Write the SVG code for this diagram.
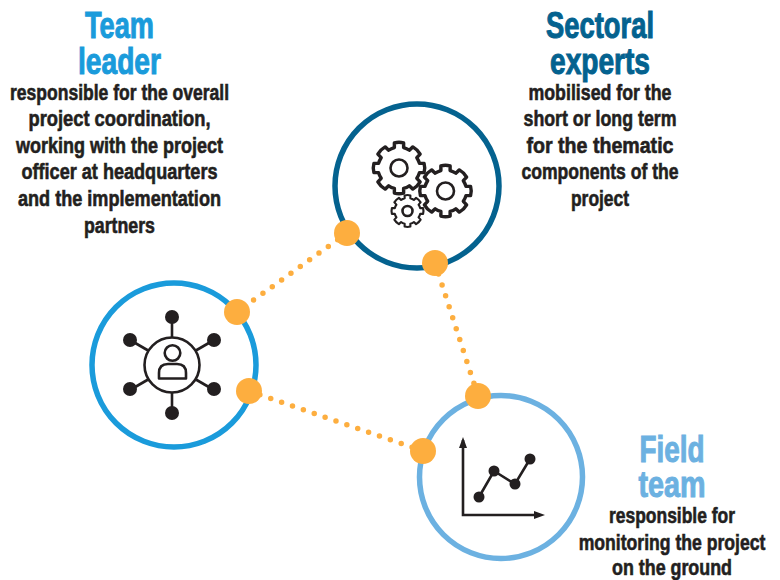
<svg xmlns="http://www.w3.org/2000/svg" width="780" height="580" viewBox="0 0 780 580">
<style>
text{font-family:"Liberation Sans Narrow","Liberation Sans",Arial,sans-serif;font-weight:700;text-anchor:middle}
.b{font-size:22px;fill:#231f20;stroke:#231f20;stroke-width:.6}
.h{font-size:36px;stroke-width:1}
.ring{fill:#fff;stroke-width:5.5}
.dot{fill:#fdae3f}
.ic{fill:none;stroke:#231f20;stroke-width:2.6;stroke-linejoin:round;vector-effect:non-scaling-stroke}
.ik{fill:#231f20}
.ln{stroke:#231f20;stroke-width:2.6;fill:none}
.con{fill:none;stroke:#fdae3f;stroke-width:5.5;stroke-linecap:round;stroke-dasharray:0 11.5}
</style>
<defs>
<path id="gear" d="M-3.500-19 Q0-20 3.500-19 L3.500-15.500 A15.500 15.500 0 0 1 7.800-13.500 L10.500-16 Q14-14 16-10.500 L13.500-7.800 A15.500 15.500 0 0 1 15.500-3.500 L19-3.500 Q20 0 19 3.500 L15.500 3.500 A15.500 15.500 0 0 1 13.500 7.800 L16 10.500 Q14 14 10.500 16 L7.800 13.500 A15.500 15.500 0 0 1 3.500 15.500 L3.500 19 Q0 20 -3.500 19 L-3.500 15.500 A15.500 15.500 0 0 1 -7.800 13.500 L-10.500 16 Q-14 14 -16 10.500 L-13.500 7.800 A15.500 15.500 0 0 1 -15.500 3.500 L-19 3.500 Q-20 0 -19-3.500 L-15.500-3.500 A15.500 15.500 0 0 1 -13.500-7.800 L-16-10.500 Q-14-14 -10.500-16 L-7.800-13.500 A15.500 15.500 0 0 1 -3.500-15.500Z"/>
</defs>
<g id="connectors">
<line class="con" x1="347" y1="233" x2="237" y2="312"/>
<line class="con" x1="435" y1="263" x2="478" y2="396"/>
<line class="con" x1="249" y1="391" x2="423" y2="451"/>
</g>
<g id="team-leader">
<circle class="ring" cx="174" cy="365" r="82" stroke="#1a9bdb"/>
<g class="ln">
<line x1="172" y1="316" x2="172" y2="338"/><line x1="172" y1="392" x2="172" y2="414"/>
<line x1="130" y1="340" x2="149" y2="351"/><line x1="214" y1="340" x2="195" y2="351"/>
<line x1="130" y1="390" x2="149" y2="379"/><line x1="214" y1="390" x2="195" y2="379"/>
</g>
<g class="ik">
<circle cx="172" cy="317" r="7"/><circle cx="172" cy="413" r="7"/>
<circle cx="130" cy="340" r="7"/><circle cx="214" cy="340" r="7"/>
<circle cx="130" cy="389" r="7"/><circle cx="214" cy="389" r="7"/>
</g>
<circle class="ic" cx="172" cy="365" r="27.500"/>
<circle class="ic" cx="172.500" cy="353" r="7.800"/>
<path class="ic" d="M159 378.500V373Q159 364 168 364H177Q186 364 186 373V378.500Z"/>
<text x="119.500" y="38" class="h" fill="#1a9bdb" stroke="#1a9bdb" textLength="69" lengthAdjust="spacingAndGlyphs">Team</text>
<text x="119.500" y="74" class="h" fill="#1a9bdb" stroke="#1a9bdb" textLength="83" lengthAdjust="spacingAndGlyphs">leader</text>
<text x="119.500" y="100" class="b" textLength="219" lengthAdjust="spacingAndGlyphs">responsible for the overall</text>
<text x="119.500" y="126" class="b" textLength="182" lengthAdjust="spacingAndGlyphs">project coordination,</text>
<text x="119.500" y="153" class="b" textLength="207" lengthAdjust="spacingAndGlyphs">working with the project</text>
<text x="119.500" y="179" class="b" textLength="196" lengthAdjust="spacingAndGlyphs">officer at headquarters</text>
<text x="119.500" y="206" class="b" textLength="203" lengthAdjust="spacingAndGlyphs">and the implementation</text>
<text x="119.500" y="233" class="b" textLength="71" lengthAdjust="spacingAndGlyphs">partners</text>
</g>
<g id="sectoral-experts">
<circle class="ring" cx="417" cy="186" r="82" stroke="#04628f"/>
<use href="#gear" class="ic" transform="translate(399,168) scale(1.32)"/>
<circle class="ic" cx="399" cy="168" r="8.500"/>
<use href="#gear" class="ic" transform="translate(445.500,191) scale(1.32)"/>
<circle class="ic" cx="445.500" cy="191" r="8.500"/>
<use href="#gear" class="ic" transform="translate(407.500,211) scale(0.82)"/>
<circle class="ic" cx="407.500" cy="211" r="5"/>
<text x="600" y="38" class="h" fill="#04628f" stroke="#04628f" textLength="108" lengthAdjust="spacingAndGlyphs">Sectoral</text>
<text x="600" y="74" class="h" fill="#04628f" stroke="#04628f" textLength="100" lengthAdjust="spacingAndGlyphs">experts</text>
<text x="600" y="100" class="b" textLength="143" lengthAdjust="spacingAndGlyphs">mobilised for the</text>
<text x="600" y="126" class="b" textLength="153" lengthAdjust="spacingAndGlyphs">short or long term</text>
<text x="600" y="153" class="b" textLength="147" lengthAdjust="spacingAndGlyphs">for the thematic</text>
<text x="600" y="179" class="b" textLength="157" lengthAdjust="spacingAndGlyphs">components of the</text>
<text x="600" y="206" class="b" textLength="58" lengthAdjust="spacingAndGlyphs">project</text>
</g>
<g id="field-team">
<circle class="ring" cx="501" cy="477" r="81.500" stroke="#6cb1e1"/>
<path class="ln" d="M463 440V515H536"/>
<path class="ik" d="M463 437l-4 11h8zM545 515l-11-4v8z"/>
<path class="ln" d="M479 497L494 471L515 484L530 459"/>
<g class="ik"><circle cx="479" cy="497" r="5.500"/><circle cx="494" cy="471" r="5.500"/><circle cx="515" cy="484" r="5.500"/><circle cx="530" cy="459" r="5.500"/></g>
<text x="672" y="462" class="h" fill="#6cb1e1" stroke="#6cb1e1" textLength="65" lengthAdjust="spacingAndGlyphs">Field</text>
<text x="672" y="497" class="h" fill="#6cb1e1" stroke="#6cb1e1" textLength="67" lengthAdjust="spacingAndGlyphs">team</text>
<text x="672" y="523" class="b" textLength="126" lengthAdjust="spacingAndGlyphs">responsible for</text>
<text transform="translate(672 550) scale(.8 1)" class="b">monitoring the project</text>
<text x="672" y="575" class="b" textLength="120" lengthAdjust="spacingAndGlyphs">on the ground</text>
</g>
<g id="junctions" class="dot">
<circle cx="347" cy="233" r="13"/><circle cx="435" cy="263" r="13"/><circle cx="237" cy="312" r="13"/><circle cx="249" cy="391" r="13"/><circle cx="478" cy="396" r="13"/><circle cx="423" cy="451" r="13"/>
</g>
</svg>
